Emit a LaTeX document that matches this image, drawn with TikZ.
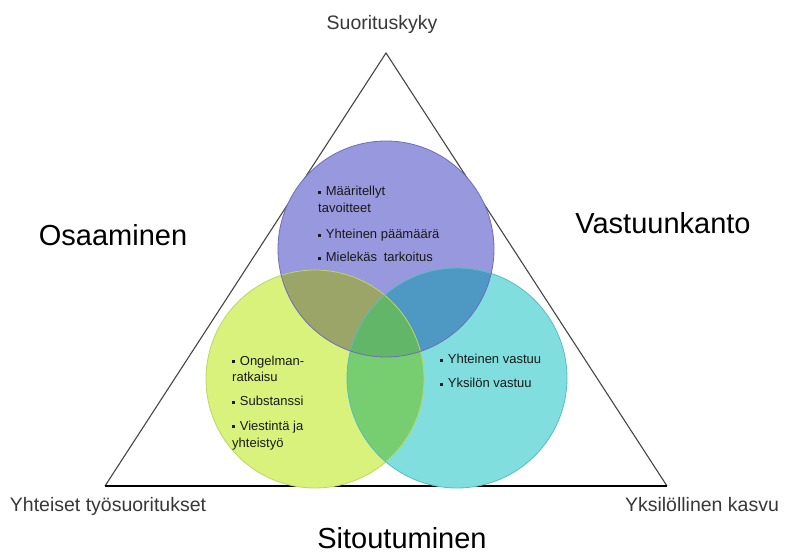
\documentclass[tikz,border=0pt]{standalone}
\usepackage{fontspec}
\setmainfont{Liberation Sans}
\definecolor{pfill}{RGB}{152,152,222}
\definecolor{gfill}{RGB}{216,242,124}
\definecolor{cfill}{RGB}{128,222,222}
\definecolor{pgfill}{RGB}{155,165,104}
\definecolor{pcfill}{RGB}{78,152,196}
\definecolor{gcfill}{RGB}{118,206,112}
\definecolor{allfill}{RGB}{98,182,104}
\definecolor{pline}{RGB}{110,110,190}
\definecolor{gline}{RGB}{188,214,100}
\definecolor{cline}{RGB}{88,188,196}
\definecolor{triline}{RGB}{70,70,70}
\definecolor{baseline}{RGB}{128,128,128}
\newcommand\bul{\rule[0.25ex]{3.2pt}{3.2pt}\hspace{4.5pt}}
\begin{document}
\begin{tikzpicture}[x=1pt,y=-1pt,
  bl/.style={font=\fontsize{13}{17}\selectfont, anchor=base west, inner sep=0pt, align=left, text=black!90},
  corner/.style={font=\fontsize{19.5}{23}\selectfont, text=black!78, anchor=base, inner sep=0pt},
  side/.style={font=\fontsize{29}{34}\selectfont, text=black, anchor=base, inner sep=0pt},
  ring/.style={line width=0.8pt}]
\useasboundingbox[fill=white] (0,0) rectangle (785,553);

% triangle
\coordinate (apex) at (386,53);
\coordinate (bl) at (105,486);
\coordinate (br) at (667,486);
\draw[triline, line width=1.1pt, line join=miter] (bl) -- (apex) -- (br);
\draw[baseline, line width=2.6pt] (bl) -- (br);

% circle centres
\coordinate (P) at (386,249);
\coordinate (G) at (315,379);
\coordinate (C) at (457,378);
\def\rp{108}\def\rg{109}\def\rc{110}

% base fills
\fill[gfill] (G) circle (\rg);
\fill[cfill] (C) circle (\rc);
\fill[pfill] (P) circle (\rp);
% overlaps
\begin{scope}
  \clip (P) circle (\rp);
  \fill[pgfill] (G) circle (\rg);
  \fill[pcfill] (C) circle (\rc);
\end{scope}
\begin{scope}
  \clip (G) circle (\rg);
  \fill[gcfill] (C) circle (\rc);
  \clip (C) circle (\rc);
  \fill[allfill] (P) circle (\rp);
\end{scope}
% outlines
\draw[ring, gline] (G) circle (\rg);
\draw[ring, cline] (C) circle (\rc);
\draw[ring, pline] (P) circle (\rp);

% bullet texts (two-line items are anchored on their last line)
\node[bl] (p1) at (318,213) {\bul Määritellyt\\tavoitteet};
\node[bl] (p2) at (318,239) {\bul Yhteinen päämäärä};
\node[bl] (p3) at (318,262) {\bul Mielekäs\hspace{3pt} tarkoitus};

\node[bl] (g1) at (232,382) {\bul Ongelman-\\ratkaisu};
\node[bl] (g2) at (232,406) {\bul Substanssi};
\node[bl] (g3) at (232,447) {\bul Viestintä ja\\yhteistyö};

\node[bl] (c1) at (440,364) {\bul Yhteinen vastuu};
\node[bl] (c2) at (440,388) {\bul Yksilön vastuu};

% corner labels
\node[corner] (top) at (382,30) {Suorituskyky};
\node[corner] (left) at (108,511) {Yhteiset työsuoritukset};
\node[corner] (right) at (702,511) {Yksilöllinen kasvu};

% side labels
\node[side] (osa) at (113,246) {Osaaminen};
\node[side] (vas) at (663,234) {Vastuunkanto};
\node[side] (sit) at (402,548) {Sitoutuminen};
\end{tikzpicture}
\end{document}
